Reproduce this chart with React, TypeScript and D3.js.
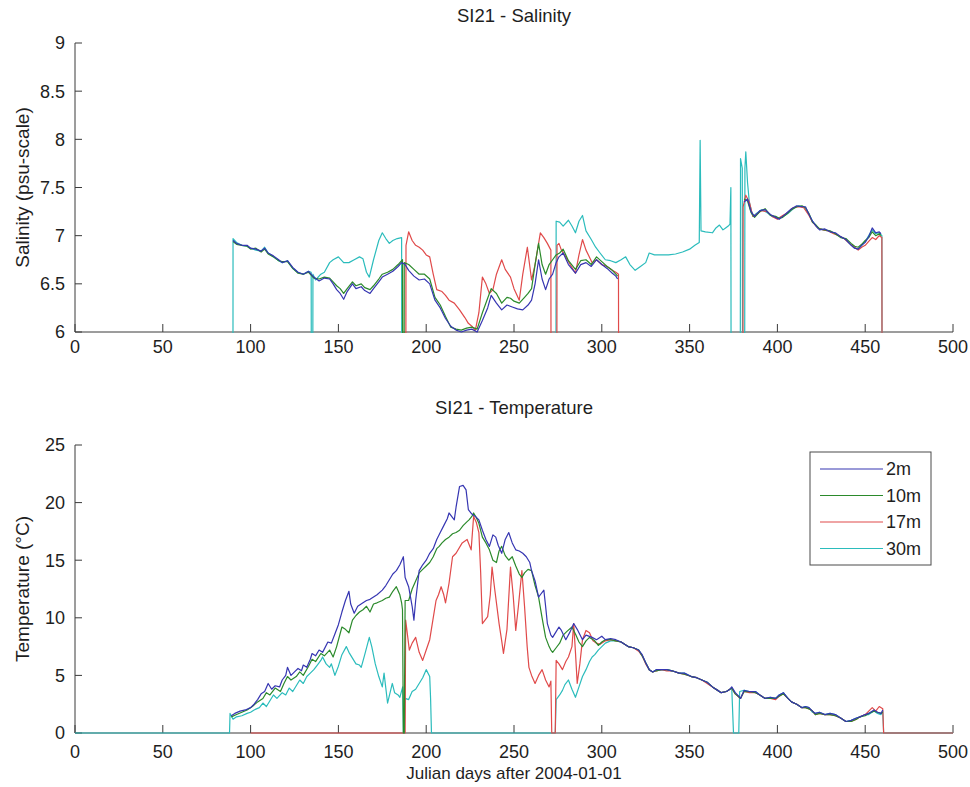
import React from "react";
import * as d3 from "d3";

type Pt = [number, number];

// Depth series shared by both panels
const depthLabels = ["2m", "10m", "17m", "30m"];
const depthColors = ["#3636b2", "#2b8a2b", "#e04a4a", "#2bbcbc"];

const xTicks = [0, 50, 100, 150, 200, 250, 300, 350, 400, 450, 500];
const salinityTicks = [6, 6.5, 7, 7.5, 8, 8.5, 9];
const temperatureTicks = [0, 5, 10, 15, 20, 25];

// Salinity (psu) by Julian day. NaN = no record, 0 = dropout.
const salinity2m: Pt[] = [
  [90, 6.95], [92, 6.92], [95, 6.9], [98, 6.9], [100, 6.87], [103, 6.86], [106, 6.84], [108, 6.87],
  [110, 6.82], [113, 6.79], [116, 6.75], [118, 6.72], [121, 6.74], [124, 6.67], [127, 6.62], [130, 6.6],
  [133, 6.63], [136, 6.57], [139, 6.53], [142, 6.56], [145, 6.55], [147, 6.5], [149, 6.44], [151, 6.4],
  [153, 6.34], [155, 6.42], [158, 6.5], [160, 6.45], [163, 6.47], [165, 6.43], [168, 6.4], [170, 6.45],
  [173, 6.52], [175, 6.57], [178, 6.6], [181, 6.63], [184, 6.68], [186, 6.72], [188, 6.7], [190, 6.64],
  [193, 6.58], [196, 6.54], [199, 6.55], [202, 6.5], [205, 6.33], [208, 6.25], [211, 6.14], [214, 6.06],
  [217, 6.02], [220, 6.0], [223, 6.02], [226, 6.03], [229, 6.0], [232, 6.12], [235, 6.25], [237, 6.38],
  [240, 6.3], [243, 6.23], [246, 6.28], [249, 6.26], [252, 6.24], [255, 6.23], [258, 6.28], [260, 6.33],
  [262, 6.5], [264, 6.75], [266, 6.55], [268, 6.44], [270, 6.55], [272, 6.6], [274, 6.72], [275.6, 6.78],
  [278, 6.82], [281, 6.7], [285, 6.61], [288, 6.7], [291, 6.72], [294, 6.68], [297, 6.75], [300, 6.7],
  [303, 6.66], [306, 6.61], [308, 6.58], [309, 6.55], [310, NaN],
  [381, 7.35], [383, 7.38], [385, 7.25], [387, 7.2], [390, 7.26], [393, 7.27], [396, 7.22], [399, 7.19],
  [401, 7.17], [403, 7.2], [405, 7.23], [408, 7.28], [411, 7.31], [414, 7.3], [416, 7.3], [418, 7.22],
  [420, 7.15], [422, 7.1], [424, 7.06], [427, 7.07], [430, 7.04], [433, 7.03], [436, 6.99], [439, 6.96],
  [442, 6.9], [444, 6.87], [446, 6.86], [448, 6.9], [450, 6.93], [452, 6.99], [454, 7.08], [456, 7.03],
  [458, 7.04], [459, 7.02],
];

const salinity10m: Pt[] = [
  [90, 6.94], [92, 6.91], [95, 6.9], [98, 6.89], [100, 6.86], [103, 6.87], [106, 6.83], [108, 6.86],
  [110, 6.81], [113, 6.78], [116, 6.74], [118, 6.73], [121, 6.73], [124, 6.66], [127, 6.61], [130, 6.6],
  [133, 6.62], [136, 6.56], [139, 6.55], [142, 6.57], [145, 6.56], [147, 6.52], [149, 6.48], [151, 6.45],
  [153, 6.4], [155, 6.45], [158, 6.52], [160, 6.48], [163, 6.5], [165, 6.46], [168, 6.44], [170, 6.48],
  [173, 6.55], [175, 6.6], [178, 6.62], [181, 6.65], [184, 6.7], [186.5, 6.75], [187, 0], [187.5, 6.72],
  [190, 6.7], [193, 6.65], [196, 6.6], [199, 6.6], [202, 6.55], [205, 6.36], [208, 6.28], [211, 6.16],
  [214, 6.05], [217, 6.03], [220, 6.02], [223, 6.04], [226, 6.05], [229, 6.03], [232, 6.2], [235, 6.35],
  [237, 6.45], [240, 6.4], [243, 6.3], [246, 6.36], [248, 6.35], [250, 6.32], [253, 6.3], [256, 6.36],
  [258, 6.4], [260, 6.45], [262, 6.7], [264, 6.92], [266, 6.7], [268, 6.6], [270, 6.7], [272, 6.75],
  [274, 6.8], [276, 6.82], [278, 6.86], [281, 6.74], [285, 6.65], [288, 6.74], [291, 6.75], [294, 6.7],
  [297, 6.78], [300, 6.73], [303, 6.68], [306, 6.64], [308, 6.6], [309, 6.58], [310, NaN],
  [381, 7.38], [383, 7.36], [385, 7.24], [387, 7.19], [390, 7.25], [393, 7.28], [396, 7.21], [399, 7.2],
  [401, 7.18], [403, 7.19], [405, 7.22], [408, 7.27], [411, 7.3], [414, 7.31], [416, 7.29], [418, 7.23],
  [420, 7.14], [422, 7.11], [424, 7.07], [427, 7.06], [430, 7.05], [433, 7.02], [436, 6.98], [439, 6.97],
  [442, 6.92], [444, 6.89], [446, 6.88], [448, 6.91], [450, 6.95], [452, 6.98], [454, 7.04], [456, 7.0],
  [458, 7.02], [459, 7.0],
];

const salinity17m: Pt[] = [
  [100, 0], [188, 0], [188.5, 6.9], [190, 7.04], [192, 6.95], [194, 6.9], [196, 6.88], [198, 6.85],
  [200, 6.8], [202, 6.78], [204, 6.6], [206, 6.44], [209, 6.42], [211, 6.38], [213, 6.33], [216, 6.3],
  [219, 6.23], [222, 6.15], [224, 6.09], [226, 6.06], [228, 6.02], [230, 6.2], [232, 6.57], [234, 6.5],
  [236, 6.4], [238, 6.44], [240, 6.6], [243, 6.75], [245, 6.65], [248, 6.57], [250, 6.45], [253, 6.33],
  [255, 6.6], [257.6, 6.88], [260, 6.54], [262, 6.7], [265, 7.03], [267, 6.98], [269, 6.92], [271, 6.85],
  [271.5, 0], [274, 0], [274.5, 6.9], [275.6, 6.92], [277, 6.85], [279.5, 6.78], [282, 6.7], [285, 6.61],
  [287, 6.8], [289, 6.96], [291, 6.85], [294.5, 6.72], [297, 6.75], [300, 6.7], [303, 6.68], [306, 6.64],
  [308, 6.62], [309.5, 6.6], [310, 0], [380, 0], [380.5, 7.3], [382, 7.42], [384, 7.35], [386, 7.2],
  [388, 7.22], [391, 7.26], [394, 7.25], [397, 7.2], [400, 7.17], [403, 7.21], [406, 7.24], [409, 7.29],
  [412, 7.3], [415, 7.29], [418, 7.21], [420, 7.14], [423, 7.08], [426, 7.06], [429, 7.05], [432, 7.02],
  [435, 7.0], [438, 6.97], [441, 6.92], [444, 6.88], [446, 6.85], [448, 6.88], [450, 6.9], [452, 6.94],
  [454, 6.98], [456, 6.96], [458, 7.0], [459.5, 6.98], [460, 0], [500, 0],
];

const salinity30m: Pt[] = [
  [89.8, 0], [90, 6.97], [92, 6.93], [95, 6.9], [98, 6.89], [100, 6.87], [103, 6.85], [106, 6.84],
  [108, 6.88], [110, 6.82], [113, 6.78], [116, 6.74], [118, 6.72], [121, 6.74], [124, 6.66], [127, 6.62],
  [130, 6.6], [133, 6.63], [134.5, 6.62], [135, 0], [135.5, 6.6], [137, 6.54], [140, 6.6], [142, 6.62],
  [145, 6.72], [147, 6.75], [150, 6.78], [153, 6.72], [156, 6.72], [159, 6.75], [162, 6.78], [164, 6.76],
  [166, 6.62], [167.6, 6.57], [170, 6.75], [173, 6.95], [175, 7.03], [177, 6.97], [179, 6.92],
  [181, 6.95], [183.5, 6.97], [186, 6.98], [186.5, 0], [273.5, 0], [274, 7.15], [276, 7.14], [278, 7.1],
  [281, 7.16], [283, 7.1], [285, 7.03], [287, 7.15], [289, 7.21], [291, 7.05], [294, 6.96], [296.5, 6.88],
  [299, 6.82], [302, 6.75], [305, 6.74], [308, 6.72], [311, 6.75], [313.6, 6.78], [316, 6.7], [319, 6.64],
  [322, 6.68], [325, 6.72], [327, 6.82], [330, 6.8], [334, 6.8], [338, 6.8], [342, 6.81], [346, 6.83],
  [350, 6.86], [353, 6.9], [355.5, 6.93], [356, 7.99], [356.5, 7.05], [359, 7.04], [363, 7.03],
  [365, 7.08], [367, 7.11], [369, 7.06], [370.5, 7.08], [372, 7.1], [373, 7.12], [373.5, 7.5], [374, 0],
  [378.5, 0], [379, 7.8], [380, 7.7], [380.5, 0], [381, 0], [381.5, 7.7], [382, 7.87], [383, 7.55],
  [384, 7.35], [386, 7.2], [388, 7.23], [391, 7.27], [394, 7.24], [397, 7.2], [400, 7.18], [403, 7.2],
  [406, 7.23], [409, 7.28], [412, 7.31], [415, 7.3], [418, 7.22], [420, 7.15], [423, 7.08], [426, 7.06],
  [429, 7.05], [432, 7.03], [435, 7.0], [438, 6.97], [441, 6.92], [444, 6.87], [446, 6.86], [448, 6.9],
  [450, 6.94], [452, 7.0], [454, 7.06], [456, 7.02], [458, 7.03], [459.5, 7.0], [460, 0], [500, 0],
];

// Temperature (°C) by Julian day. NaN = no record, 0 = dropout.
const temperature2m: Pt[] = [
  [89, 1.5], [91, 1.7], [94, 1.9], [97, 2.0], [100, 2.2], [102, 2.5], [104, 2.9], [106, 3.4], [108, 3.6],
  [110, 4.3], [112, 3.8], [114, 4.1], [116.5, 4.0], [118, 4.6], [120, 5.0], [121, 5.7], [123, 5.0],
  [125, 5.3], [127, 5.6], [129, 5.4], [130, 5.9], [132, 5.7], [134, 6.4], [135, 6.9], [137, 6.7],
  [139, 7.2], [141, 7.0], [144, 7.9], [146, 7.8], [148, 8.6], [150, 9.4], [152, 10.5], [154, 11.5],
  [156, 12.3], [157, 11.2], [159, 10.4], [161, 11.0], [164, 11.3], [166, 11.5], [168, 11.6], [170, 11.8],
  [172, 12.0], [175, 12.4], [177, 12.8], [179, 13.3], [181, 13.8], [183, 14.1], [185, 14.6], [187, 15.3],
  [188, 13.5], [190, 12.7], [192, 11.0], [193, 9.8], [194, 11.5], [196, 14.1], [198, 14.6], [200, 15.0],
  [202, 15.6], [204, 16.0], [206, 16.8], [208, 17.4], [210, 18.0], [212, 18.6], [213, 19.1], [215, 18.7],
  [216, 18.5], [217, 19.6], [219, 21.4], [221, 21.5], [222.7, 21.1], [224, 19.4], [226, 19.0], [228, 18.8],
  [230, 18.5], [232, 17.6], [234, 16.8], [236, 16.2], [238, 17.2], [239.6, 17.0], [241, 16.3], [243, 15.6],
  [245, 16.8], [247, 17.4], [249, 16.5], [251, 15.9], [253, 15.8], [255, 15.6], [257, 15.3], [259, 14.8],
  [260, 14.1], [262, 13.2], [264, 11.8], [265, 12.0], [267, 12.4], [268, 11.0], [269, 9.5], [271, 8.5],
  [272, 8.3], [274, 8.8], [275.6, 9.2], [277, 8.9], [279.5, 8.1], [282, 8.8], [284, 9.5], [286, 9.0],
  [289, 8.1], [291, 8.5], [294.5, 8.3], [297, 8.1], [300, 8.4], [302, 8.1], [305, 8.2], [308, 8.1],
  [311, 7.9], [315, 7.5], [318, 7.4], [321, 7.2], [323, 6.8], [325, 6.1], [327, 5.5], [329, 5.3],
  [331, 5.5], [334, 5.5], [337, 5.5], [340, 5.4], [344, 5.2], [347, 5.2], [351, 4.9], [354, 4.8],
  [357, 4.6], [360, 4.4], [363, 4.0], [366, 3.7], [368, 3.5], [371, 3.6], [373, 3.8], [374, 4.0],
  [376, 3.5], [378, 3.2], [379, 3.0], [381, 3.7], [384, 3.6], [387.5, 3.6], [390, 3.3], [393, 3.0],
  [396, 3.1], [399, 3.0], [401, 3.3], [403.4, 3.5], [406, 3.0], [408, 2.7], [411, 2.5], [414, 2.2],
  [416, 2.3], [418, 2.2], [420, 1.9], [421.6, 1.7], [424, 1.8], [427, 1.6], [430, 1.7], [433, 1.6],
  [436, 1.3], [439, 1.0], [442, 1.1], [445, 1.3], [447, 1.4], [450, 1.6], [452, 1.7], [455, 2.0],
  [457, 1.8], [459, 1.7], [460, 2.0],
];

const temperature10m: Pt[] = [
  [89, 1.4], [92, 1.6], [95, 1.8], [98, 2.0], [101, 2.3], [104, 2.7], [107, 3.0], [109, 3.5], [111, 3.3],
  [114, 3.9], [117, 3.6], [119, 4.3], [121, 4.9], [123, 4.6], [126, 4.9], [128, 5.3], [130, 5.0],
  [133, 5.8], [135, 6.4], [137, 6.2], [140, 6.9], [142, 6.7], [145, 7.2], [147, 6.6], [149, 7.5],
  [152, 9.2], [154, 9.0], [156, 8.7], [158, 9.8], [160, 10.2], [162, 10.5], [164, 10.7], [166, 11.0],
  [168, 10.5], [170, 11.2], [172, 11.3], [175, 11.5], [177, 11.7], [179, 11.8], [181, 12.3], [183, 12.7],
  [185, 12.0], [186, 11.3], [186.5, 10.7], [187, 0], [187.5, 0], [188, 11.5], [190, 11.5], [192, 12.5],
  [194, 13.2], [196, 13.9], [198, 14.2], [200, 14.5], [202, 14.8], [204, 15.3], [206, 16.0], [207.4, 16.2],
  [209, 16.5], [211, 16.8], [213, 17.0], [215, 17.3], [217, 17.4], [219, 17.6], [221, 18.0], [223, 18.3],
  [224.4, 18.5], [226, 18.8], [227, 19.1], [228.5, 18.7], [230, 18.2], [232, 17.0], [234, 16.5],
  [236, 15.9], [238, 15.0], [240, 14.8], [241.5, 15.8], [243, 16.2], [245, 15.4], [247, 15.0], [249, 15.3],
  [251, 14.5], [253, 13.8], [254.5, 13.5], [256, 13.9], [258, 14.2], [260, 14.1], [262, 12.8], [264, 11.8],
  [266, 10.0], [268, 8.3], [270, 7.5], [271, 7.2], [272, 7.0], [274, 7.4], [276, 7.8], [278, 8.5],
  [280, 8.8], [283, 9.2], [285, 8.6], [287, 7.9], [289, 7.5], [291, 8.0], [293, 8.3], [296, 8.0],
  [298, 7.6], [300, 7.9], [302, 8.1], [305, 8.1], [308, 8.0], [311, 7.9], [315, 7.5], [318, 7.4],
  [321, 7.2], [323, 6.7], [325, 6.1], [327, 5.5], [329, 5.3], [331, 5.4], [334, 5.5], [337, 5.5],
  [340, 5.4], [344, 5.2], [347, 5.1], [351, 4.9], [354, 4.8], [357, 4.6], [360, 4.4], [363, 4.0],
  [366, 3.7], [368, 3.5], [371, 3.6], [374, 3.9], [376, 3.4], [379, 3.0], [381, 3.6], [384, 3.6],
  [387.5, 3.5], [390, 3.3], [393, 3.0], [396, 3.0], [399, 3.0], [401, 3.2], [403.4, 3.4], [406, 3.0],
  [408, 2.7], [411, 2.5], [414, 2.2], [416, 2.2], [418, 2.1], [420, 1.9], [421.6, 1.6], [424, 1.7],
  [427, 1.6], [430, 1.6], [433, 1.5], [436, 1.3], [439, 1.0], [442, 1.0], [445, 1.2], [447, 1.4],
  [450, 1.5], [452, 1.7], [455, 1.9], [457, 1.8], [459, 1.7], [460, 1.8],
];

const temperature17m: Pt[] = [
  [100, 0], [188, 0], [188.3, 9.8], [190.4, 7.2], [192, 7.8], [194, 8.3], [196, 7.0], [198, 6.3],
  [200, 7.2], [202, 8.1], [204, 10.0], [205.6, 11.5], [207, 12.0], [208.5, 12.7], [210, 12.0], [211, 11.3],
  [213, 13.0], [215, 15.3], [217, 15.6], [220.5, 16.5], [223.3, 16.8], [225.6, 15.9], [227, 18.8],
  [228.5, 18.3], [230, 17.4], [231, 14.0], [232, 9.5], [233.5, 9.8], [235, 10.1], [236.5, 12.0],
  [237.5, 14.4], [239, 12.5], [241.5, 9.5], [243, 8.0], [244, 6.9], [246, 9.0], [248, 14.4], [249.5, 12.0],
  [251, 8.9], [252.5, 11.0], [254.5, 14.1], [256, 11.0], [257.5, 7.5], [258.5, 5.7], [260, 5.0],
  [262, 4.3], [264, 5.0], [266, 5.5], [268, 4.6], [270, 4.0], [271, 4.5], [271.5, 0], [273.5, 0],
  [274, 6.3], [275.6, 6.0], [277.6, 5.5], [279.5, 6.2], [281, 6.6], [283, 7.5], [284, 9.5], [285, 7.0],
  [286, 4.3], [287.5, 6.0], [289, 8.1], [291, 8.9], [293, 8.7], [295, 8.0], [297, 7.8], [299, 7.7],
  [302, 8.0], [305, 8.1], [308, 8.0], [311, 7.9], [315, 7.5], [318, 7.4], [321, 7.1], [323, 6.7],
  [325, 6.0], [327, 5.5], [329, 5.3], [331, 5.4], [334, 5.5], [337, 5.4], [340, 5.4], [344, 5.2],
  [347, 5.1], [351, 4.9], [354, 4.8], [357, 4.6], [360, 4.3], [363, 4.0], [366, 3.7], [368, 3.5],
  [371, 3.6], [374, 3.9], [376, 3.4], [379, 3.0], [381, 3.6], [384, 3.5], [387.5, 3.5], [390, 3.3],
  [393, 3.0], [396, 3.0], [399, 2.9], [401, 3.2], [403.4, 3.4], [406, 3.0], [408, 2.7], [411, 2.5],
  [414, 2.2], [416, 2.2], [418, 2.1], [420, 1.9], [421.6, 1.6], [424, 1.7], [427, 1.6], [430, 1.6],
  [433, 1.5], [436, 1.3], [439, 1.0], [442, 1.0], [445, 1.2], [447, 1.4], [450, 1.6], [452, 1.9],
  [454, 2.2], [456, 1.9], [458, 2.3], [460, 2.1], [460.5, 0], [500, 0],
];

const temperature30m: Pt[] = [
  [0, 0], [88, 0], [88.3, 1.7], [90, 1.2], [92, 1.4], [95, 1.5], [98, 1.7], [100, 1.8], [102, 2.0],
  [105, 2.2], [107, 2.6], [109, 2.3], [111, 2.8], [113, 3.3], [115, 3.0], [118, 3.5], [120, 3.3],
  [122, 3.9], [124, 3.6], [126, 4.1], [128, 4.6], [130, 4.3], [132, 4.9], [134, 5.2], [136, 5.5],
  [138, 5.9], [140, 6.3], [141, 6.6], [143, 6.0], [145, 5.7], [146, 6.0], [148, 5.0], [150, 5.8],
  [152, 6.8], [154.5, 7.5], [156, 7.0], [158, 6.5], [160, 6.0], [162, 5.9], [163, 5.7], [165, 6.8],
  [167.6, 8.3], [169, 7.5], [171, 6.0], [173, 4.9], [175, 4.0], [176, 5.2], [178, 2.6], [180.7, 4.3],
  [182, 3.5], [184, 3.3], [185, 3.1], [186.6, 4.0], [187, 0], [187.5, 0], [188, 3.0], [190, 2.9],
  [192, 3.6], [194, 3.8], [196, 4.3], [198, 4.8], [200, 5.5], [202, 4.9], [202.5, 3.0], [203, 0],
  [273.5, 0], [274, 2.9], [276, 3.3], [277.6, 3.7], [279, 4.2], [281, 4.6], [283, 3.8], [285, 3.1],
  [287, 4.0], [289, 4.9], [291, 5.5], [293, 6.2], [294.5, 6.6], [296, 6.8], [298, 7.2], [300, 7.5],
  [302, 7.8], [305, 8.0], [308, 8.0], [311, 7.9], [315, 7.5], [318, 7.4], [321, 7.2], [323, 6.7],
  [325, 6.1], [327, 5.5], [329, 5.3], [331, 5.5], [334, 5.5], [337, 5.5], [340, 5.4], [344, 5.2],
  [347, 5.2], [351, 4.9], [354, 4.8], [357, 4.6], [360, 4.4], [363, 4.0], [366, 3.7], [368, 3.5],
  [371, 3.6], [374, 3.9], [375, 0], [378, 0], [378.5, 3.6], [381, 3.7], [384, 3.6], [387.5, 3.6],
  [390, 3.3], [393, 3.0], [396, 3.1], [399, 3.0], [401, 3.3], [403.4, 3.5], [406, 3.0], [408, 2.7],
  [411, 2.5], [414, 2.2], [416, 2.3], [418, 2.2], [420, 1.8], [421.6, 1.7], [424, 1.8], [427, 1.6],
  [430, 1.7], [433, 1.6], [436, 1.3], [439, 1.0], [442, 1.1], [445, 1.3], [447, 1.4], [450, 1.6],
  [452, 1.6], [455, 1.9], [457, 1.7], [459, 1.6], [460, 1.9], [460.5, 0], [500, 0],
];

const salinitySeries = [salinity2m, salinity10m, salinity17m, salinity30m];
const temperatureSeries = [temperature2m, temperature10m, temperature17m, temperature30m];

const FONT = "'Liberation Sans', Arial, Helvetica, sans-serif";
const TEXT = "#1e1e1e";
const AXIS = "#3a3a3a";

const W = 970;
const H = 787;
const plotLeft = 75;
const plotRight = 953;

type PanelProps = {
  id: string;
  top: number;
  bottom: number;
  yDomain: [number, number];
  yTicks: number[];
  series: Pt[][];
  title: string;
  titleY: number;
  yLabel: string;
  tickLabelY: number;
};

function Panel({ id, top, bottom, yDomain, yTicks, series, title, titleY, yLabel, tickLabelY }: PanelProps) {
  const x = d3.scaleLinear().domain([0, 500]).range([plotLeft, plotRight]);
  const y = d3.scaleLinear().domain(yDomain).range([bottom, top]);
  const line = d3
    .line<Pt>()
    .defined((d) => !Number.isNaN(d[1]))
    .x((d) => x(d[0]))
    .y((d) => y(d[1]));
  const order = [3, 2, 1, 0];
  return (
    <g>
      <defs>
        <clipPath id={id}>
          <rect x={plotLeft} y={top - 1} width={plotRight - plotLeft + 1} height={bottom - top + 2} />
        </clipPath>
      </defs>
      <text x={(plotLeft + plotRight) / 2} y={titleY} textAnchor="middle" fontFamily={FONT} fontSize={18.5} fill={TEXT}>
        {title}
      </text>
      {/* axes (no box) */}
      <line x1={plotLeft} x2={plotLeft} y1={top} y2={bottom} stroke={AXIS} strokeWidth={1} />
      <line x1={plotLeft} x2={plotRight} y1={bottom} y2={bottom} stroke={AXIS} strokeWidth={1} />
      {xTicks.map((t) => (
        <g key={"x" + t}>
          <line x1={x(t)} x2={x(t)} y1={bottom} y2={bottom - 8} stroke={AXIS} strokeWidth={1} />
          <text x={x(t)} y={tickLabelY} textAnchor="middle" fontFamily={FONT} fontSize={18} fill={TEXT}>
            {t}
          </text>
        </g>
      ))}
      {yTicks.map((t) => (
        <g key={"y" + t}>
          <line x1={plotLeft} x2={plotLeft + 7} y1={y(t)} y2={y(t)} stroke={AXIS} strokeWidth={1} />
          <text x={plotLeft - 10} y={y(t)} dy="0.36em" textAnchor="end" fontFamily={FONT} fontSize={18} fill={TEXT}>
            {t}
          </text>
        </g>
      ))}
      <text
        transform={`translate(22,${(top + bottom) / 2}) rotate(-90)`}
        textAnchor="middle"
        dy="0.36em"
        fontFamily={FONT}
        fontSize={19}
        fill={TEXT}
      >
        {yLabel}
      </text>
      <g clipPath={`url(#${id})`}>
        {order.map((i) => (
          <path key={i} d={line(series[i]) || ""} fill="none" stroke={depthColors[i]} strokeWidth={1.2} strokeLinejoin="round" />
        ))}
      </g>
    </g>
  );
}

function Legend() {
  const left = 810;
  const topY = 452;
  const rowGap = 26.5;
  return (
    <g>
      <rect x={left} y={topY} width={121} height={113} fill="#fff" stroke="#4a4a4a" strokeWidth={1} />
      {depthLabels.map((label, i) => {
        const cy = topY + 17 + i * rowGap;
        return (
          <g key={label}>
            <line x1={left + 10} x2={left + 73} y1={cy} y2={cy} stroke={depthColors[i]} strokeWidth={1.2} />
            <text x={left + 76} y={cy} dy="0.36em" fontFamily={FONT} fontSize={18} fill={TEXT}>
              {label}
            </text>
          </g>
        );
      })}
    </g>
  );
}

export default function App() {
  return (
    <svg
      width={W}
      height={H}
      viewBox={`0 0 ${W} ${H}`}
      style={{ position: "absolute", left: 0, top: 0, background: "#fff" }}
    >
      <rect x={0} y={0} width={W} height={H} fill="#fff" />
      <Panel
        id="clip-sal"
        top={43}
        bottom={332}
        yDomain={[6, 9]}
        yTicks={salinityTicks}
        series={salinitySeries}
        title="SI21 - Salinity"
        titleY={22}
        yLabel="Salinity (psu-scale)"
        tickLabelY={353}
      />
      <Panel
        id="clip-temp"
        top={445}
        bottom={733}
        yDomain={[0, 25]}
        yTicks={temperatureTicks}
        series={temperatureSeries}
        title="SI21 - Temperature"
        titleY={414}
        yLabel="Temperature (°C)"
        tickLabelY={758}
      />
      <Legend />
      <text x={(plotLeft + plotRight) / 2} y={779} textAnchor="middle" fontFamily={FONT} fontSize={17} fill={TEXT}>
        Julian days after 2004-01-01
      </text>
    </svg>
  );
}
